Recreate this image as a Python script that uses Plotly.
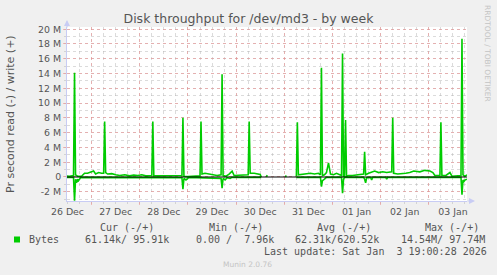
import plotly.graph_objects as go
import pandas as pd

BASE = pd.Timestamp("2025-12-26 00:00")

# write (+) throughput, hours since 26 Dec 00:00 and MB/s
write_hours = [11.5, 13.0, 15.0, 15.5, 16.0, 17.0, 19.0, 20.5, 22.0, 23.5, 25.0, 26.0, 27.5, 29.0, 30.0,
               30.5, 31.0, 32.0, 34.0, 36.0, 38.0, 40.5, 43.0, 45.0, 47.0, 49.0, 51.0, 54.0, 54.5, 55.0,
               57.0, 59.5, 61.5, 64.0, 67.0, 69.0, 69.5, 70.0, 72.0, 74.0, 76.0, 78.0, 78.5, 79.0, 80.5,
               82.5, 84.5, 86.5, 88.5, 89.0, 89.5, 91.0, 92.5, 94.0, 95.0, 97.0, 99.0, 101.0, 102.0, 102.5,
               103.0, 105.0, 107.0, 108.0, 108.5, 109.0, 111.0, 111.5, 112.0, 120.5, 121.0, 121.5,
               126.0, 126.5, 127.0, 129.0, 131.0, 133.0, 135.0, 137.0, 138.0, 138.5, 139.0, 140.0, 141.0,
               142.0, 143.0, 144.5, 146.0, 147.5, 148.5, 149.0, 149.5, 150.0, 150.5, 151.0, 152.0, 154.0,
               156.0, 158.0, 159.5, 160.0, 160.5, 162.0, 163.5, 165.0, 167.0, 169.0, 171.0, 172.5, 173.5,
               174.0, 174.5, 176.5, 178.5, 180.5, 182.5, 184.5, 187.5, 190.0, 192.5, 194.0, 195.0, 197.5,
               198.0, 198.5, 200.5, 202.5, 203.5, 206.5, 208.0, 208.5, 209.0, 210.0, 211.0]
write_mbps = [0.15, 0.1, 0.2, 14.1, 0.3, 0.1, 0.1, 0.5, 0.5, 0.6, 0.8, 0.4, 0.6, 0.5, 0.5,
              7.5, 0.6, 0.4, 0.45, 0.3, 0.2, 0.3, 0.15, 0.25, 0.2, 0.3, 0.15, 0.2, 7.5, 0.15,
              0.15, 0.2, 0.15, 0.2, 0.15, 0.2, 8.0, 0.1, 0.05, 0.1, 0.05, 0.15, 7.5, 0.4, 0.5,
              0.4, 0.3, 0.2, 0.3, 13.9, 0.2, 0.1, 0.4, 0.8, 0.2, 0.2, 0.3, 0.2, 0.3, 7.5,
              0.5, 0.5, 0.4, 0.35, 0.0, None, 0.0, 0.25, None, 0.0, 0.2, None,
              0.1, 7.4, 0.3, 0.4, 0.5, 0.5, 0.4, 0.5, 0.3, 14.8, 0.2, 0.3, 0.6,
              1.9, 0.4, 0.3, 0.5, 0.3, 0.2, 16.7, 0.1, 0.1, 7.7, 0.1, 0.2, 0.2,
              0.3, 0.3, 0.4, 3.4, 0.3, 0.5, 0.6, 0.8, 0.6, 0.7, 0.6, 0.6, 0.7,
              8.0, 0.5, 0.4, 0.4, 0.5, 0.6, 0.8, 0.7, 0.9, 0.8, 0.6, 0.2, 0.2,
              7.4, 0.2, 0.2, 0.6, 0.1, 0.2, 0.2, 18.7, 0.3, 0.1, 0.3]

# read (-) throughput, drawn below zero
read_hours = [11.5, 15.0, 15.5, 16.0, 16.5, 17.0, 17.5, 18.5, 19.5, 69.0, 69.5, 70.0, 71.0, 72.5,
              88.5, 89.0, 89.5, 90.5, 91.5, 93.0, 94.0, 108.5, 109.0, 126.0, 138.0, 138.5, 139.0,
              140.0, 141.0, 148.5, 149.0, 149.5, 150.0, 159.5, 160.0, 160.5, 161.0, 163.0, 163.5,
              164.0, 170.5, 171.0, 171.5, 208.0, 208.5, 209.0, 209.5, 210.0, 211.0]
read_mbps = [-0.05, -0.05, -3.2, -0.3, -0.8, -0.3, -0.5, -0.1, -0.05, -0.1, -1.66, -0.2, -0.4, -0.05,
             -0.2, -1.5, -0.2, -0.4, -0.1, -0.2, -0.05, -0.05, None, -0.05, -0.05, -1.3, -0.5,
             -0.3, -0.05, -0.05, -2.2, -0.3, -0.05, -0.05, -0.3, -0.8, -0.1, -0.05, -0.4,
             -0.05, -0.05, -0.3, -0.05, -0.05, -2.4, -0.4, -0.6, -0.4, -0.3]

y_ticks = [-2, 0, 2, 4, 6, 8, 10, 12, 14, 16, 18, 20]
y_tick_labels = ["-2 M", "0", "2 M", "4 M", "6 M", "8 M", "10 M", "12 M", "14 M", "16 M", "18 M", "20 M"]
day_labels = ["26 Dec", "27 Dec", "28 Dec", "29 Dec", "30 Dec", "31 Dec", "01 Jan", "02 Jan", "03 Jan"]

legend_headers = ["Cur (-/+)", "Min (-/+)", "Avg (-/+)", "Max (-/+)"]
legend_values = ["61.14k/ 95.91k", "0.00 /  7.96k", "62.31k/620.52k", "14.54M/ 97.74M"]
series_name = "Bytes"
last_update = "Last update: Sat Jan  3 19:00:28 2026"

GREEN = "#00cc00"
TXT = "#555555"


def to_time(hours):
    return [BASE + pd.Timedelta(hours=h) for h in hours]


W, H = 497, 275
L, R, T, B = 67, 30, 27, 74
PW, PH = W - L - R, H - T - B


def px(xp):
    return (xp - L) / PW


def py(yp):
    return (H - B - yp) / PH


t_start = BASE + pd.Timedelta(hours=11.75)
t_end = BASE + pd.Timedelta(hours=211.0)
midnights = [BASE + pd.Timedelta(days=d) for d in range(1, 9)]
noons = [BASE + pd.Timedelta(days=d, hours=12) for d in range(0, 9)]

fig = go.Figure()
fig.add_trace(go.Scatter(x=to_time(write_hours), y=write_mbps, mode="lines",
                         line=dict(color=GREEN, width=1.6), connectgaps=False, hoverinfo="skip"))
fig.add_trace(go.Scatter(x=to_time(read_hours), y=read_mbps, mode="lines", xaxis="x2",
                         line=dict(color=GREEN, width=1.6), connectgaps=False, hoverinfo="skip"))

red_grid = "rgba(235,140,140,0.55)"
grey_grid = "rgba(175,175,175,0.45)"
axis_col = "#c8ccf4"

fig.update_layout(
    width=W, height=H,
    margin=dict(l=L, r=R, t=T, b=B),
    paper_bgcolor="#f0f0f0", plot_bgcolor="#ffffff",
    showlegend=False,
    font=dict(family="DejaVu Sans", color=TXT),
    title=dict(text="Disk throughput for /dev/md3 - by week", x=0.5, xref="container", xanchor="center",
               y=1 - 19 / H, yref="container", yanchor="middle",
               font=dict(family="DejaVu Sans", size=12.5, color=TXT)),
    xaxis=dict(type="date", range=[t_start, t_end], tickmode="array", tickvals=midnights,
               ticktext=[""] * len(midnights), showgrid=True, gridcolor=red_grid, griddash="dot",
               gridwidth=1, ticks="outside", ticklen=3, tickcolor=red_grid,
               showline=True, linecolor=axis_col, linewidth=1, zeroline=False,
               minor=dict(tickmode="linear", tick0=BASE, dtick=6 * 3600 * 1000, showgrid=True,
                          gridcolor=grey_grid, griddash="dot", ticks="outside", ticklen=2,
                          tickcolor=grey_grid)),
    xaxis2=dict(type="date", overlaying="x", matches="x", anchor="y", side="bottom",
                tickmode="array", tickvals=noons, ticktext=day_labels, showgrid=False,
                ticks="", showline=False, zeroline=False, ticklabelstandoff=4,
                tickfont=dict(family="DejaVu Sans", size=9.4, color=TXT)),
    yaxis=dict(range=[-3.25, 20.3], tickmode="array", tickvals=y_ticks, ticktext=y_tick_labels,
               showgrid=True, gridcolor=red_grid, griddash="dot", ticks="outside", ticklen=3,
               tickcolor=red_grid, showline=True, linecolor=axis_col, linewidth=1, zeroline=False,
               tickfont=dict(family="DejaVu Sans", size=9.4, color=TXT),
               minor=dict(dtick=1, showgrid=True, gridcolor=grey_grid, griddash="dot",
                          ticks="outside", ticklen=2, tickcolor=grey_grid)),
)

# zero rule drawn above the data, as in the RRD graph
fig.add_shape(type="line", xref="paper", x0=0, x1=1, yref="y", y0=0, y1=0,
              line=dict(color="#000000", width=1.2), layer="above")

# axis arrows
fig.add_annotation(xref="paper", yref="paper", x=px(67), y=py(20), ax=0, ay=9, text="",
                   showarrow=True, arrowhead=2, arrowsize=1, arrowwidth=1.2, arrowcolor=axis_col)
fig.add_annotation(xref="paper", yref="paper", x=px(475), y=py(H - B), ax=-9, ay=0, text="",
                   showarrow=True, arrowhead=2, arrowsize=1, arrowwidth=1.2, arrowcolor=axis_col)

# y axis title
fig.add_annotation(xref="paper", yref="paper", x=px(10), y=py(114), text="Pr second read (-) / write (+)",
                   textangle=-90, showarrow=False, xanchor="center", yanchor="middle",
                   font=dict(family="DejaVu Sans", size=11, color=TXT))

# watermark
fig.add_annotation(xref="paper", yref="paper", x=px(488), y=py(53), text="RRDTOOL / TOBI OETIKER",
                   textangle=90, showarrow=False, xanchor="center", yanchor="middle",
                   font=dict(family="DejaVu Sans", size=7.5, color="#c4c4c4"))

MONO = dict(family="DejaVu Sans Mono", size=10, color=TXT)
header_x = [98.3, 206.7, 315, 422.7]
value_x = [83, 194, 293.3, 399]
for hx, txt in zip(header_x, legend_headers):
    fig.add_annotation(xref="paper", yref="paper", x=px(hx), y=py(227.5), text=txt, showarrow=False,
                       xanchor="left", yanchor="middle", font=MONO)
for vx, txt in zip(value_x, legend_values):
    fig.add_annotation(xref="paper", yref="paper", x=px(vx), y=py(239.5), text=txt, showarrow=False,
                       xanchor="left", yanchor="middle", font=MONO)
fig.add_annotation(xref="paper", yref="paper", x=px(27), y=py(239.5), text=series_name, showarrow=False,
                   xanchor="left", yanchor="middle", font=MONO)
fig.add_annotation(xref="paper", yref="paper", x=px(261.7), y=py(251.5), text=last_update, showarrow=False,
                   xanchor="left", yanchor="middle", font=MONO)
fig.add_annotation(xref="paper", yref="paper", x=px(247.5), y=py(264.3), text="Munin 2.0.76", showarrow=False,
                   xanchor="center", yanchor="middle",
                   font=dict(family="DejaVu Sans", size=7.5, color="#c4c4c4"))

# legend swatch
fig.add_shape(type="rect", xref="paper", yref="paper", x0=px(14), x1=px(20), y0=py(242.5), y1=py(236.5),
              fillcolor=GREEN, line=dict(width=0))

fig.write_html("out.html")
